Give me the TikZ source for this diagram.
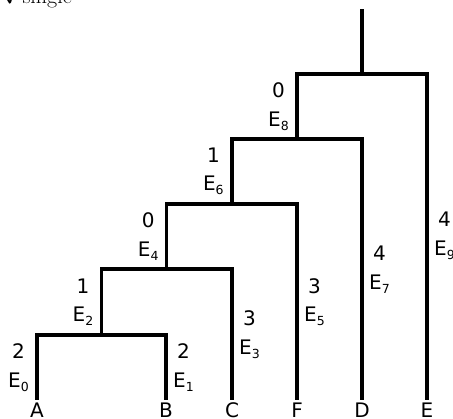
\documentclass[tikz,border=0pt]{standalone}
\usepackage{amssymb}
\usepackage{fontspec}
\setsansfont{DejaVu Sans}
\newcommand\esub[2]{#1\raisebox{-4pt}{\fontsize{12.5}{12.5}\selectfont #2}}
\tikzset{
  edge/.style={line width=3.3pt, line join=miter, line cap=butt},
  lbl/.style={font=\fontsize{20}{28.5}\selectfont\sffamily, align=center, inner sep=0pt},
  lleft/.style={lbl, anchor=east, xshift=-8pt},
  lright/.style={lbl, anchor=west, xshift=7pt},
  leaflbl/.style={font=\fontsize{20}{24}\selectfont\sffamily, anchor=base, inner sep=0pt},
  title/.style={font=\fontsize{22}{26}\selectfont, anchor=base west, inner sep=0pt}
}
\begin{document}
\begin{tikzpicture}[x=1pt,y=-1pt]
\useasboundingbox (0,0) rectangle (453,419);
% title (cut off at top)
\node[title] (t) at (4,4) {$\checkmark$single};
% leaves
\coordinate (a) at (37,400);
\coordinate (b) at (166,400);
\coordinate (c) at (232,400);
\coordinate (f) at (297,400);
\coordinate (d) at (362,400);
\coordinate (e) at (427,400);
% internal nodes
\coordinate (n1) at (101.5,335);
\coordinate (n2) at (166.75,269);
\coordinate (n3) at (231.9,204);
\coordinate (n4) at (296.95,139);
\coordinate (n5) at (362,74);
\coordinate (top) at (362,9);
% edges
\draw[edge] (a) |- (n1);
\draw[edge] (b) |- (n1);
\draw[edge] (n1) |- (n2);
\draw[edge] (c) |- (n2);
\draw[edge] (n2) |- (n3);
\draw[edge] (f) |- (n3);
\draw[edge] (n3) |- (n4);
\draw[edge] (d) |- (n4);
\draw[edge] (n4) |- (n5);
\draw[edge] (e) |- (n5);
\draw[edge] (n5) -- (top);
% leaf labels
\node[leaflbl] (A) at (37,417.6) {A};
\node[leaflbl] (B) at (166,417.6) {B};
\node[leaflbl] (C) at (232,417.6) {C};
\node[leaflbl] (F) at (297,417.6) {F};
\node[leaflbl] (D) at (362,417.6) {D};
\node[leaflbl] (E) at (427,417.6) {E};
% edge labels
\node[lleft]  (l0) at (37,367.5)     {2\\\esub{E}{0}};
\node[lright] (l1) at (166,367.5)    {2\\\esub{E}{1}};
\node[lleft]  (l2) at (101.5,302)    {1\\\esub{E}{2}};
\node[lright] (l3) at (232,334.5)    {3\\\esub{E}{3}};
\node[lleft]  (l4) at (166.75,236.5) {0\\\esub{E}{4}};
\node[lright] (l5) at (297,302)      {3\\\esub{E}{5}};
\node[lleft]  (l6) at (231.9,171.5)  {1\\\esub{E}{6}};
\node[lright] (l7) at (362,269.5)    {4\\\esub{E}{7}};
\node[lleft]  (l8) at (296.95,106.5) {0\\\esub{E}{8}};
\node[lright] (l9) at (427,236)      {4\\\esub{E}{9}};
\end{tikzpicture}
\end{document}
